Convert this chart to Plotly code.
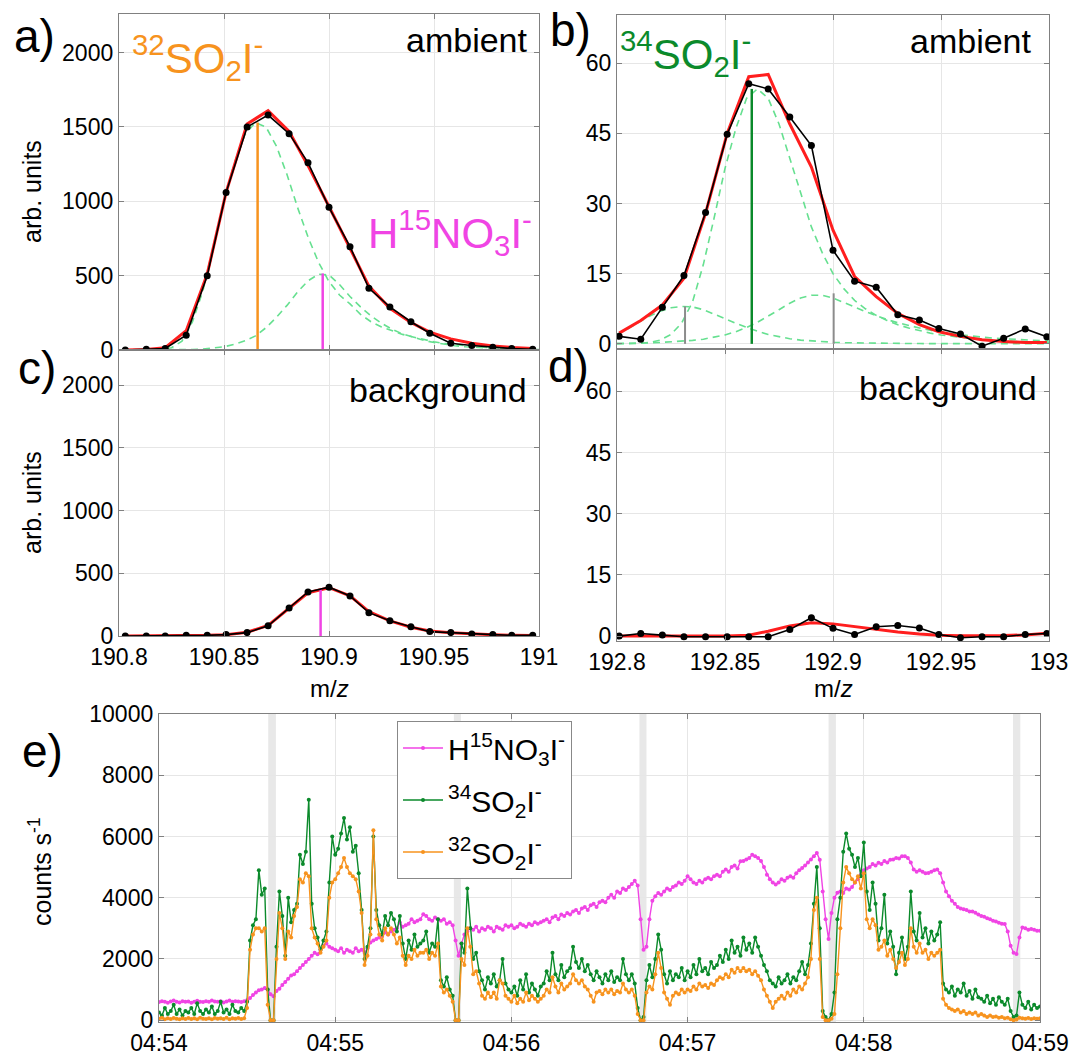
import plotly.graph_objects as go

FONT = "Liberation Sans, Arial, Helvetica, sans-serif"
ORANGE = "#F7931E"
MAGENTA = "#F044E4"
GREEN = "#0B8A2B"
MINT = "#66E090"
RED = "#FF1E1E"
STICKGRAY = "#8C8C8C"
FRAME = "#808080"
GRID = "#E6E6E6"

W, H = 1082, 1055

# ---------------- panel a / c : m/z 190.8 - 191 ----------------
mz_a = [190.803, 190.813, 190.822, 190.832, 190.842, 190.851, 190.861, 190.871, 190.881, 190.890,
        190.900, 190.910, 190.919, 190.929, 190.939, 190.948, 190.958, 190.968, 190.978, 190.987, 190.997]
amb32_data = [0, 5, 10, 100, 500, 1060, 1500, 1580, 1455, 1260, 960, 695, 415, 290, 190, 113, 45, 30, 18, 10, 5]
amb32_fit = [0, 3, 15, 130, 510, 1060, 1520, 1610, 1470, 1240, 965, 680, 430, 280, 185, 120, 75, 45, 27, 17, 10]
bkg32_data = [0, 0, 0, 5, 5, 11, 27, 81, 224, 351, 389, 319, 186, 122, 73, 35, 27, 16, 11, 5, 5]
bkg32_fit = [0, 0, 0, 3, 5, 10, 30, 85, 220, 345, 385, 320, 195, 120, 70, 40, 25, 15, 10, 6, 4]

mz_a_fine = [190.800, 190.805, 190.810, 190.815, 190.820, 190.825, 190.830, 190.835, 190.840, 190.845,
             190.850, 190.855, 190.860, 190.865, 190.870, 190.875, 190.880, 190.885, 190.890, 190.895,
             190.900, 190.905, 190.910, 190.915, 190.920, 190.925, 190.930, 190.935, 190.940, 190.945,
             190.950, 190.955, 190.960, 190.965, 190.970, 190.975, 190.980, 190.985, 190.990, 190.995, 191.000]
comp_so2_32 = [0, 0, 0, 0, 3, 15, 60, 190, 400, 700, 1000, 1260, 1450, 1530, 1500, 1370, 1180, 960, 760, 590,
               460, 370, 310, 240, 190, 155, 130, 105, 88, 70, 55, 44, 35, 28, 22, 17, 14, 11, 9, 7, 6]
comp_hno3 = [0, 0, 0, 0, 0, 0, 1, 3, 6, 12, 22, 38, 62, 95, 150, 220, 300, 390, 465, 510,
             505, 440, 360, 290, 230, 180, 140, 108, 84, 65, 50, 38, 29, 22, 17, 13, 10, 8, 6, 4, 3]

stick_so2_32 = [190.866, 1530]
stick_hno3_amb = [190.897, 515]
stick_hno3_bkg = [190.896, 375]

# ---------------- panel b / d : m/z 192.8 - 193 ----------------
mz_b = [192.801, 192.811, 192.821, 192.831, 192.841, 192.851, 192.861, 192.870, 192.880, 192.890,
        192.900, 192.910, 192.920, 192.930, 192.940, 192.949, 192.959, 192.969, 192.979, 192.989, 192.999]
amb34_data = [1.6, 1.0, 7.8, 14.6, 28.1, 44.8, 55.6, 54.5, 48.5, 42.4, 20.0, 13.4, 12.1, 6.2, 5.1, 3.3, 2.1, -0.5, 1.2, 3.2, 1.5]
amb34_fit = [2.3, 5.0, 8.3, 14.0, 27.9, 45.0, 57.1, 57.6, 47.0, 37.8, 24.3, 14.4, 10.1, 6.5, 4.1, 2.6, 1.6, 0.9, 0.5, 0.3, 0.3]
bkg34_data = [0, 0.65, 0.25, -0.15, -0.15, -0.15, -0.15, -0.15, 1.6, 4.5, 1.9, 0.4, 2.3, 2.6, 2.0, 0.4, -0.4, -0.15, -0.15, 0.4, 0.65]
bkg34_fit = [0, 0, 0, 0, 0, 0.05, 0.2, 1.2, 2.5, 3.3, 3.0, 2.3, 1.6, 1.0, 0.5, 0.2, 0.1, 0.1, 0.15, 0.3, 0.7]

mz_b_fine = [192.800, 192.805, 192.810, 192.815, 192.820, 192.825, 192.830, 192.835, 192.840, 192.845,
             192.850, 192.855, 192.860, 192.865, 192.870, 192.875, 192.880, 192.885, 192.890, 192.895,
             192.900, 192.905, 192.910, 192.915, 192.920, 192.925, 192.930, 192.935, 192.940, 192.945,
             192.950, 192.955, 192.960, 192.965, 192.970, 192.975, 192.980, 192.985, 192.990, 192.995, 193.000]
comp_so2_34 = [0, 0, 0.1, 0.3, 0.8, 2, 4.5, 9, 17, 27, 37.5, 46, 52.5, 54.5, 52.5, 47, 39.5, 32, 25, 19.5,
               15, 11.8, 9.3, 7.5, 6.1, 5.0, 4.1, 3.4, 2.8, 2.3, 1.9, 1.6, 1.3, 1.1, 0.9, 0.75, 0.6, 0.5, 0.4, 0.35, 0.3]
comp_left_b = [2.0, 3.2, 4.6, 5.9, 7.0, 7.7, 8.0, 7.9, 7.3, 6.4, 5.4, 4.4, 3.5, 2.7, 2.0, 1.5, 1.1, 0.8, 0.6, 0.45,
               0.35, 0.25, 0.2, 0.15, 0.12, 0.1, 0.08, 0.07, 0.06, 0.05, 0.05, 0.04, 0.04, 0.03, 0.03, 0.03, 0.02, 0.02, 0.02, 0.02, 0.02]
comp_right_b = [0.1, 0.1, 0.15, 0.2, 0.3, 0.4, 0.55, 0.75, 1.0, 1.4, 1.9, 2.6, 3.5, 4.6, 5.9, 7.3, 8.7, 9.8, 10.4, 10.4,
                9.8, 8.9, 7.9, 6.9, 6.0, 5.2, 4.5, 3.9, 3.4, 2.9, 2.5, 2.2, 1.9, 1.6, 1.4, 1.2, 1.05, 0.9, 0.8, 0.7, 0.6]

stick_so2_34 = [192.8624, 54.5]
sticks_gray = [[192.8315, 8.0], [192.9003, 10.8]]

# ---------------- panel e : time series (seconds after 04:54:00) ----------------
t_sec = list(range(301))
time_ticks = [0, 60, 120, 180, 240, 300]
time_labels = ["04:54", "04:55", "04:56", "04:57", "04:58", "04:59"]
count_ticks = [0, 2000, 4000, 6000, 8000, 10000]
count_labels = ["0", "2000", "4000", "6000", "8000", "10000"]
band_start = [37.2, 100.4, 163.6, 228.0, 290.8]
band_end = [39.8, 102.8, 166.0, 230.5, 293.3]

hno3_ts = [
    590, 620, 600, 570, 610, 640, 600, 580, 620, 600,
    610, 570, 600, 630, 600, 590, 620, 600, 640, 610,
    600, 620, 580, 610, 640, 600, 620, 610, 590, 620,
    650, 720, 820, 900, 980, 1000, 1050, 1000, 850, 780,
    950, 1030, 1150, 1250, 1350, 1460, 1500, 1600, 1700, 1800,
    1900, 2000, 2100, 2200, 2150, 2300, 2430, 2500, 2400, 2350,
    2300, 2250, 2350, 2200, 2300, 2250, 2200, 2350, 2250, 2300,
    2200, 2350, 2540, 2600, 2650, 2700, 2750, 2860, 2800, 2900,
    2950, 3000, 3190, 3050, 3100, 3150, 3300, 3200, 3250, 3300,
    3460, 3400, 3300, 3250, 3350, 3300, 3250, 3300, 3150, 3200,
    3100, 2600, 2100, 2500, 2800, 2900, 3000, 2950, 3050, 2900,
    3000, 2950, 3050, 3000, 2900, 3050, 3000, 2950, 3100, 3050,
    3100, 3000, 3050, 3150, 3100, 3050, 3150, 3100, 3200, 3150,
    3200, 3250, 3300, 3200, 3350, 3400, 3300, 3450, 3400, 3500,
    3450, 3550, 3600, 3500, 3650, 3700, 3600, 3750, 3800, 3700,
    3850, 3900, 3850, 4000, 4100, 4000, 4200, 4150, 4300, 4250,
    4350, 4450, 4550, 4400, 3300, 2300, 2400, 3300, 3900, 4050,
    4150, 4100, 4200, 4300, 4250, 4350, 4400, 4500, 4450, 4550,
    4700, 4600, 4500, 4450, 4550, 4500, 4600, 4650, 4600, 4700,
    4750, 4700, 4850, 4920, 4850, 5000, 5050, 4950, 5190, 5200,
    5250, 5300, 5400, 5350, 5300, 5200, 5000, 4750, 4600, 4500,
    4430, 4500, 4600, 4550, 4650, 4700, 4650, 4800, 4900, 4970,
    5050, 5150, 5250, 5350, 5460, 5240, 4200, 3300, 2650, 3500,
    4000, 4160, 4200, 4150, 4300, 4270, 4350, 4500, 4600, 4750,
    4900, 4950, 5000, 5100, 5050, 5140, 5100, 5200, 5150, 5240,
    5250, 5300, 5280, 5350, 5350, 5300, 5150, 4920, 4850, 4900,
    4850, 4800, 4810, 4850, 4900, 4920, 4800, 4500, 4200, 4050,
    3900, 3800, 3700, 3650, 3620, 3600, 3550, 3550, 3510, 3450,
    3400, 3380, 3330, 3300, 3250, 3220, 3180, 3150, 3140, 2900,
    2430, 2200, 2160, 2700, 3030, 3000, 2950, 2980, 2950, 2920,
    2920]

so2_34_ts = [
    250, 150, 400, 200, 300, 500, 200, 350, 150, 300,
    250, 400, 200, 550, 300, 200, 350, 250, 450, 200,
    300, 600, 250, 350, 200, 500, 300, 250, 400, 300,
    600, 2600, 3100, 3300, 4900, 4100, 4300, 1000, 0, 0,
    2400, 4200, 3400, 2100, 4000, 3200, 3600, 3800, 5400, 5100,
    5500, 7200, 3800, 3000, 2700, 2300, 2600, 2900, 4500, 6000,
    5400, 5600, 6100, 6600, 5900, 6300, 5500, 5700, 4800, 3600,
    2000, 2400, 3000, 6000, 3600, 3100, 2800, 3400, 3100, 3500,
    3300, 2900, 3400, 2500, 2000, 2600, 2300, 2800, 2400, 2500,
    2600, 2900, 2200, 2500, 2400, 3300, 1300, 1100, 1400, 1000,
    800, 0, 0, 2500, 2200, 4300, 3000, 2000, 2200, 1600,
    1300, 1000, 1400, 1200, 1500, 1100, 1300, 2000, 1200, 1000,
    900, 1100, 800, 1300, 1000, 1500, 900, 1200, 1000, 800,
    1100, 1200, 1600, 1300, 2200, 1500, 1300, 1800, 1400, 1600,
    1700, 2400, 1900, 1700, 2000, 1600, 1800, 1500, 1300, 1600,
    1400, 1200, 1500, 1300, 1600, 1250, 1400, 1300, 2000, 1500,
    1300, 1500, 1200, 400, 0, 100, 1300, 1800, 1400, 2000,
    2800, 2300, 1500, 1200, 1600, 1300, 1500, 1400, 1700, 1300,
    1600, 1400, 1800, 1500, 2000, 1600, 1700, 1500, 1900, 1700,
    1800, 2100, 1900, 2300, 2000, 2600, 2200, 2400, 2100, 2700,
    2300, 2500, 2200, 2700, 2400, 2100, 1800, 1600, 1300, 1200,
    1100, 1400, 1200, 1300, 1500, 1200, 1400, 1300, 1600, 1900,
    1500, 1800, 2500, 3800, 5000, 3000, 300, 100, 0, 200,
    900, 3300, 4000, 5500, 6100, 5600, 5400, 5000, 5300, 4700,
    5800, 4200, 3600, 4500, 3800, 2600, 3000, 4100, 2500, 2900,
    2400, 1500, 2200, 2700, 2000, 2400, 4200, 2900, 2600, 3500,
    2700, 3000, 2500, 2900, 2600, 2800, 3200, 1200, 1000, 900,
    1100, 800, 1000, 900, 1200, 800, 950, 700, 1000, 750,
    700, 600, 800, 550, 700, 500, 750, 600, 500, 700,
    300, 100, 150, 900, 500, 400, 600, 350, 500, 400,
    450]

so2_32_ts = [
    50, 80, 30, 60, 40, 70, 50, 30, 60, 40,
    70, 40, 60, 30, 80, 50, 40, 60, 30, 70,
    50, 60, 40, 80, 30, 60, 50, 70, 40, 60,
    400, 2300, 2800, 3000, 3000, 2900, 3000, 500, 0, 0,
    2000, 3500, 3000, 2000, 2900, 2700, 3400, 3700, 4600, 4500,
    4800, 4700, 3000, 2700, 2500, 2200, 2400, 2600, 4000, 4500,
    4600, 4800, 5000, 5300, 5000, 4800, 4700, 4600, 4200, 3500,
    1800, 2100, 2800, 6200, 3300, 2800, 2600, 3000, 2800, 3000,
    2800, 2500, 2700, 2100, 1800, 2100, 2000, 2300, 2100, 2200,
    2200, 2300, 2000, 2200, 2100, 2500, 1100, 900, 1000, 800,
    600, 0, 0, 2000, 1800, 3000, 2400, 1500, 1600, 1200,
    800, 700, 900, 750, 900, 700, 1300, 1200, 800, 700,
    600, 800, 550, 700, 600, 900, 650, 800, 700, 600,
    700, 800, 1000, 900, 1400, 1100, 900, 1200, 1000, 1100,
    1200, 1500, 1300, 1200, 1300, 1100, 1000, 800, 600, 900,
    950, 850, 1000, 900, 1000, 850, 950, 900, 1200, 1000,
    900, 1000, 800, 200, 0, 0, 900, 1100, 1000, 1500,
    2200, 1700, 900, 700, 500, 800, 900, 850, 1000, 900,
    1000, 950, 1100, 1000, 1200, 1100, 1150, 1050, 1200, 1150,
    1300, 1400, 1350, 1500, 1400, 1650, 1550, 1700, 1600, 1700,
    1600, 1650, 1500, 1600, 1450, 1300, 1000, 800, 600, 400,
    600, 700, 800, 700, 900, 800, 1000, 900, 1100, 1000,
    1200, 1400, 2000, 3600, 4000, 2000, 100, 0, 0, 50,
    200, 1500, 3000, 4500, 5000, 4800, 4600, 4500, 4700, 4300,
    4800, 3300, 3000, 3300, 3100, 2300, 2400, 2600, 2100, 2300,
    2000, 1700, 1900, 2200, 1800, 2000, 3000, 2400, 2200, 2500,
    2200, 2300, 2000, 2200, 2100, 2200, 2300, 700, 500, 400,
    350, 300, 350, 250, 300, 200, 250, 200, 250, 150,
    200, 150, 100, 150, 100, 120, 80, 100, 60, 80,
    30, 0, 20, 80, 60, 50, 70, 40, 60, 50,
    60]


def px(x):
    return x / W


def py(y):
    return 1 - y / H


fig = go.Figure()

dash_style = dict(color=MINT, width=1.6, dash="7px,5px")
black_line = dict(color="black", width=1.6)
black_marker = dict(color="black", size=7)
red_line = dict(color=RED, width=3)


def add_stick(pos_h, color, xa, ya, width=2.5):
    fig.add_trace(go.Scatter(x=[pos_h[0], pos_h[0]], y=[0, pos_h[1]], mode="lines",
                             line=dict(color=color, width=width), showlegend=False,
                             xaxis=xa, yaxis=ya, hoverinfo="skip"))


# panel a
for comp in (comp_so2_32, comp_hno3):
    fig.add_trace(go.Scatter(x=mz_a_fine, y=comp, mode="lines", line=dash_style, showlegend=False,
                             xaxis="x", yaxis="y"))
fig.add_trace(go.Scatter(x=mz_a, y=amb32_fit, mode="lines", line=red_line, showlegend=False, xaxis="x", yaxis="y"))
add_stick(stick_so2_32, ORANGE, "x", "y")
add_stick(stick_hno3_amb, MAGENTA, "x", "y")
fig.add_trace(go.Scatter(x=mz_a, y=amb32_data, mode="lines+markers", line=black_line, marker=black_marker,
                         showlegend=False, xaxis="x", yaxis="y"))

# panel b
for comp in (comp_so2_34, comp_left_b, comp_right_b):
    fig.add_trace(go.Scatter(x=mz_b_fine, y=comp, mode="lines", line=dash_style, showlegend=False,
                             xaxis="x2", yaxis="y2"))
fig.add_trace(go.Scatter(x=mz_b, y=amb34_fit, mode="lines", line=red_line, showlegend=False, xaxis="x2", yaxis="y2"))
add_stick(stick_so2_34, GREEN, "x2", "y2")
for s in sticks_gray:
    add_stick(s, STICKGRAY, "x2", "y2", width=2)
fig.add_trace(go.Scatter(x=mz_b, y=amb34_data, mode="lines+markers", line=black_line, marker=black_marker,
                         showlegend=False, xaxis="x2", yaxis="y2"))

# panel c
fig.add_trace(go.Scatter(x=mz_a, y=bkg32_fit, mode="lines", line=red_line, showlegend=False, xaxis="x3", yaxis="y3"))
add_stick(stick_hno3_bkg, MAGENTA, "x3", "y3")
fig.add_trace(go.Scatter(x=mz_a, y=bkg32_data, mode="lines+markers", line=black_line, marker=black_marker,
                         showlegend=False, xaxis="x3", yaxis="y3"))

# panel d
fig.add_trace(go.Scatter(x=mz_b, y=bkg34_fit, mode="lines", line=red_line, showlegend=False, xaxis="x4", yaxis="y4"))
fig.add_trace(go.Scatter(x=mz_b, y=bkg34_data, mode="lines+markers", line=black_line, marker=black_marker,
                         showlegend=False, xaxis="x4", yaxis="y4"))

# panel e
series = [
    ("H<sup>15</sup>NO<sub>3</sub>I<sup>-</sup>", hno3_ts, MAGENTA),
    ("<sup>34</sup>SO<sub>2</sub>I<sup>-</sup>", so2_34_ts, GREEN),
    ("<sup>32</sup>SO<sub>2</sub>I<sup>-</sup>", so2_32_ts, ORANGE),
]
for i, (name, vals, col) in enumerate(series):
    fig.add_trace(go.Scatter(x=t_sec, y=vals, mode="lines+markers", name=name,
                             line=dict(color=col, width=1.4), marker=dict(color=col, size=4),
                             legendgroup="g%d" % i, xaxis="x5", yaxis="y5"))

for s, e in zip(band_start, band_end):
    fig.add_shape(type="rect", xref="x5", yref="y5 domain", x0=s, x1=e, y0=0, y1=1,
                  fillcolor="#E8E8E8", line=dict(width=0), layer="below")


def axis(domain, rng, tickvals, ticktext=None, show=True, anchor=None):
    d = dict(domain=domain, range=rng, tickvals=tickvals, showticklabels=show,
             showline=True, linecolor=FRAME, linewidth=1.3, mirror="ticks",
             ticks="inside", ticklen=5, tickcolor=FRAME, showgrid=True, gridcolor=GRID,
             gridwidth=1, zeroline=False, tickfont=dict(size=23, color="black", family=FONT),
             automargin=False, anchor=anchor, fixedrange=True)
    if ticktext is not None:
        d["ticktext"] = ticktext
    return d


xa = [px(119), px(539)]
xb = [px(617), px(1049)]
mz_ticks_a = [190.8, 190.85, 190.9, 190.95, 191.0]
mz_ticks_b = [192.8, 192.85, 192.9, 192.95, 193.0]

fig.update_layout(
    width=W, height=H,
    margin=dict(l=0, r=0, t=0, b=0),
    paper_bgcolor="white", plot_bgcolor="white",
    font=dict(family=FONT, color="black"),
    xaxis=axis(xa, [190.8, 191.0], mz_ticks_a, show=False, anchor="y"),
    yaxis=axis([py(350), py(14)], [0, 2260], [0, 500, 1000, 1500, 2000], anchor="x"),
    xaxis2=axis(xb, [192.8, 193.0], mz_ticks_b, show=False, anchor="y2"),
    yaxis2=axis([py(349), py(15)], [-1.1, 70.3], [0, 15, 30, 45, 60], anchor="x2"),
    xaxis3=axis(xa, [190.8, 191.0], mz_ticks_a, ["190.8", "190.85", "190.9", "190.95", "191"], anchor="y3"),
    yaxis3=axis([py(636), py(350)], [0, 2280], [0, 500, 1000, 1500, 2000], anchor="x3"),
    xaxis4=axis(xb, [192.8, 193.0], mz_ticks_b, ["192.8", "192.85", "192.9", "192.95", "193"], anchor="y4"),
    yaxis4=axis([py(641), py(349)], [-1.2, 70.4], [0, 15, 30, 45, 60], anchor="x4"),
    xaxis5=axis([px(159), px(1040)], [0, 300], time_ticks, time_labels, anchor="y5"),
    yaxis5=axis([py(1022), py(714)], [-60, 10000], count_ticks, count_labels, anchor="x5"),
    legend=dict(x=px(397), y=py(721), xanchor="left", yanchor="top",
                bgcolor="white", bordercolor="#888888", borderwidth=1,
                font=dict(size=30, family=FONT, color="black"),
                traceorder="grouped", tracegroupgap=10, itemwidth=40),
    showlegend=True,
)


def note(text, x, y, size, color="black", xanchor="center", yanchor="middle", angle=0):
    fig.add_annotation(text=text, x=px(x), y=py(y), xref="paper", yref="paper", showarrow=False,
                       xanchor=xanchor, yanchor=yanchor, textangle=angle,
                       font=dict(size=size, color=color, family=FONT))


# panel letters
note("a)", 12, 36, 46, xanchor="left")
note("b)", 548, 30, 46, xanchor="left")
note("c)", 16, 368, 46, xanchor="left")
note("d)", 546, 366, 46, xanchor="left")
note("e)", 20, 751, 46, xanchor="left")

# species labels
note("<sup>32</sup>SO<sub>2</sub>I<sup>-</sup>", 130, 57, 42, ORANGE, xanchor="left")
note("H<sup>15</sup>NO<sub>3</sub>I<sup>-</sup>", 534, 232, 42, MAGENTA, xanchor="right")
note("<sup>34</sup>SO<sub>2</sub>I<sup>-</sup>", 618, 54, 42, GREEN, xanchor="left")

note("ambient", 530, 40, 34, xanchor="right")
note("ambient", 1034, 41, 34, xanchor="right")
note("background", 529, 390, 34, xanchor="right")
note("background", 1039, 388, 34, xanchor="right")

# axis titles
note("m/<i>z</i>", 329, 688, 24)
note("m/<i>z</i>", 833, 688, 24)
note("arb. units", 32, 192, 25, angle=-90)
note("arb. units", 32, 503, 25, angle=-90)
note("counts s<sup>-1</sup>", 40, 872, 25, angle=-90)

fig.write_html("out.html")
